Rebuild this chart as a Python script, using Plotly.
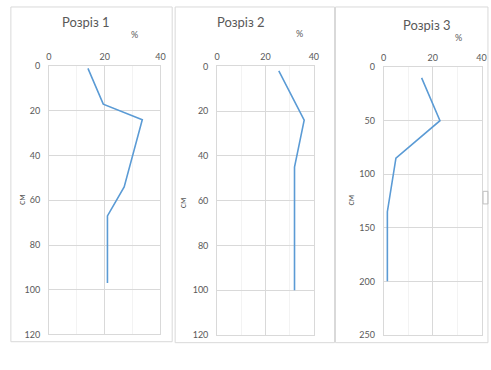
import plotly.graph_objects as go

W, H = 491, 370

# Data
titles = ["Розріз 1", "Розріз 2", "Розріз 3"]
depth1 = [1, 17, 24, 54, 67, 97]
pct1 = [14, 19.5, 33.5, 27, 21, 21]
depth2 = [2, 24, 45, 100]
pct2 = [25.5, 36, 32, 32]
depth3 = [10, 50, 85, 135, 200]
pct3 = [15.5, 23, 5, 1.5, 1.5]
y_max = [120, 120, 250]
y_step = [20, 20, 50]
x_ticks = [0, 20, 40]

series = [(pct1, depth1), (pct2, depth2), (pct3, depth3)]

# layout in pixels (left, right, top, bottom) of plot areas
areas = [(46.7, 160, 62, 338.5), (217.7, 316, 62.3, 339), (387, 486.5, 63, 339)]
frames = [(8, 172, 1, 346), (175, 337, 1, 347), (338, 493, 1, 347)]
title_pos = [(84, 17), (242, 17), (431, 20)]
pct_pos = [(133.3, 29.5), (301, 28.5), (463.3, 32.3)]
ylab_pos = [(18.3, 200), (183.3, 203), (353.3, 200)]

FONT = "Lato, 'Open Sans', sans-serif"
BLUE = "#5B9BD5"
GRID = "#D9D9D9"
TXT = "#595959"

def px(x):
    return x / W

def py(y):
    return 1 - y / H

fig = go.Figure()
annotations = []
shapes = []
for i, (xs, ys) in enumerate(series):
    n = "" if i == 0 else str(i + 1)
    fig.add_trace(go.Scatter(x=xs, y=ys, mode="lines", xaxis="x" + n, yaxis="y" + n,
                             line=dict(color=BLUE, width=1.6), showlegend=False,
                             hoverinfo="skip"))
    l, r, t, b = areas[i]
    fig.layout["xaxis" + n] = dict(
        domain=[px(l), px(r)], anchor="y" + n, side="top", range=[0, 40],
        tickvals=x_ticks, showgrid=True, gridcolor=GRID, gridwidth=1,
        minor=dict(dtick=10, showgrid=True, gridcolor="#F3F3F3", gridwidth=1),
        showline=True, mirror=True, linecolor=GRID, linewidth=1,
        zeroline=False, ticks="", ticklabelstandoff=2,
        tickfont=dict(family=FONT, size=9, color=TXT), fixedrange=True)
    fig.layout["yaxis" + n] = dict(
        domain=[py(b), py(t)], anchor="x" + n, range=[y_max[i], 0],
        dtick=y_step[i], tick0=0, showgrid=True, gridcolor=GRID, gridwidth=1,
        showline=True, mirror=True, linecolor=GRID, linewidth=1,
        zeroline=False, ticks="", ticklabelstandoff=6,
        tickfont=dict(family=FONT, size=9, color=TXT), fixedrange=True)
    fx0, fx1, fy0, fy1 = frames[i]
    shapes.append(dict(type="rect", xref="paper", yref="paper",
                       x0=px(fx0), x1=px(fx1), y0=py(fy1), y1=py(fy0),
                       line=dict(color="#D9D9D9", width=1), layer="below"))
    tx, ty = title_pos[i]
    annotations.append(dict(text=titles[i], x=px(tx), y=py(ty), xref="paper", yref="paper",
                            showarrow=False, xanchor="center", yanchor="middle",
                            font=dict(family=FONT, size=13, color="#595959")))
    cx, cy = pct_pos[i]
    annotations.append(dict(text="%", x=px(cx), y=py(cy), xref="paper", yref="paper",
                            showarrow=False, xanchor="center", yanchor="middle",
                            font=dict(family=FONT, size=9, color=TXT)))
    lx, ly = ylab_pos[i]
    annotations.append(dict(text="см", x=px(lx), y=py(ly), xref="paper", yref="paper",
                            showarrow=False, xanchor="center", yanchor="middle",
                            textangle=-90, font=dict(family=FONT, size=9, color=TXT)))

# small cut-off element at the right edge
shapes.append(dict(type="rect", xref="paper", yref="paper",
                   x0=px(488), x1=px(493), y0=py(204), y1=py(191),
                   line=dict(color="#BFBFBF", width=1)))

fig.update_layout(width=W, height=H, margin=dict(l=0, r=0, t=0, b=0),
                  paper_bgcolor="white", plot_bgcolor="white",
                  annotations=annotations, shapes=shapes)

fig.write_html("out.html", config={"displayModeBar": False},
               post_script="document.body.style.margin='0';document.body.style.overflow='hidden';")
